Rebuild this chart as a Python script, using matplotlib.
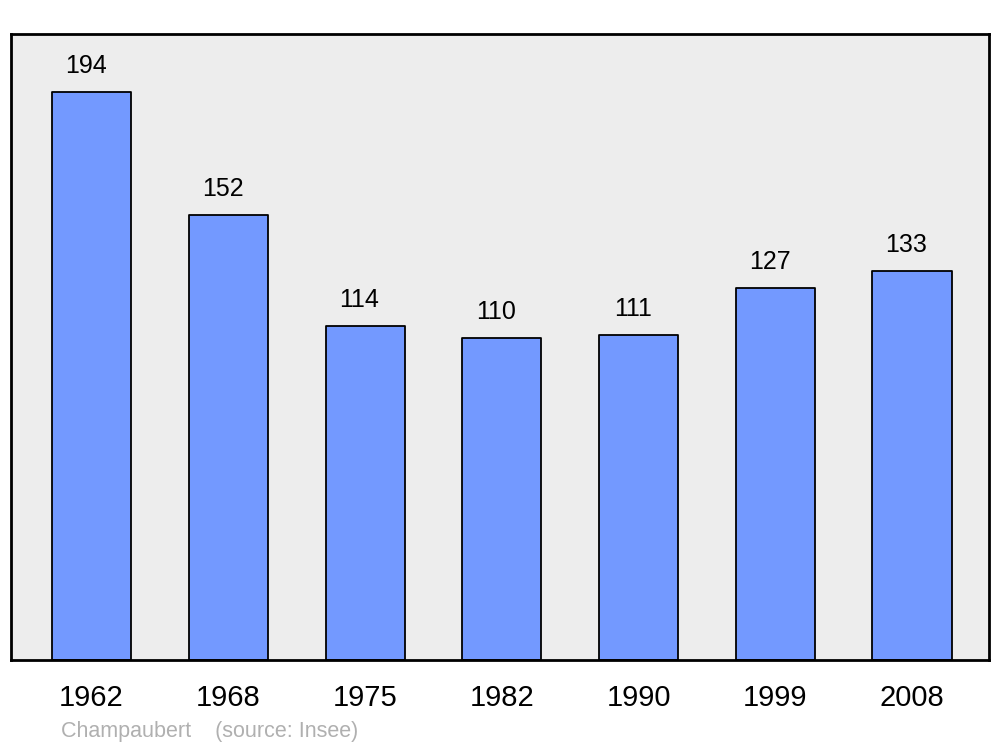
import matplotlib
matplotlib.use("Agg")
import matplotlib.pyplot as plt

years = ["1962", "1968", "1975", "1982", "1990", "1999", "2008"]
population = [194, 152, 114, 110, 111, 127, 133]

plt.rcParams['font.family'] = ['Liberation Sans', 'DejaVu Sans']

fig = plt.figure(figsize=(10, 7.47), dpi=100)
ax = fig.add_axes([11/1000, 1-660/747, 978/1000, 626/747])
ax.set_facecolor('#EDEDED')

x = list(range(len(years)))
bars = ax.bar(x, population, width=0.578, color='#7399FF', edgecolor='black',
              linewidth=1.3, joinstyle='round')
for xi, v in zip(x, population):
    ax.annotate(str(v), (xi, v), xytext=(-4, 13.5), textcoords='offset points',
                ha='center', va='baseline', fontsize=18)

ax.set_xlim(-0.589, 6.563)
ax.set_ylim(0, 213.8)
ax.set_xticks(x)
ax.set_xticklabels(years, fontsize=21)
ax.tick_params(axis='x', length=0, pad=17)
ax.set_yticks([])
for s in ax.spines.values():
    s.set_linewidth(2)
    s.set_joinstyle('round')

fig.text(61/1000, 1-731/747, "Champaubert    (source: Insee)", color='#B0B0B0',
         fontsize=15.5, ha='left', va='center')

fig.savefig("out.png", dpi=100)
